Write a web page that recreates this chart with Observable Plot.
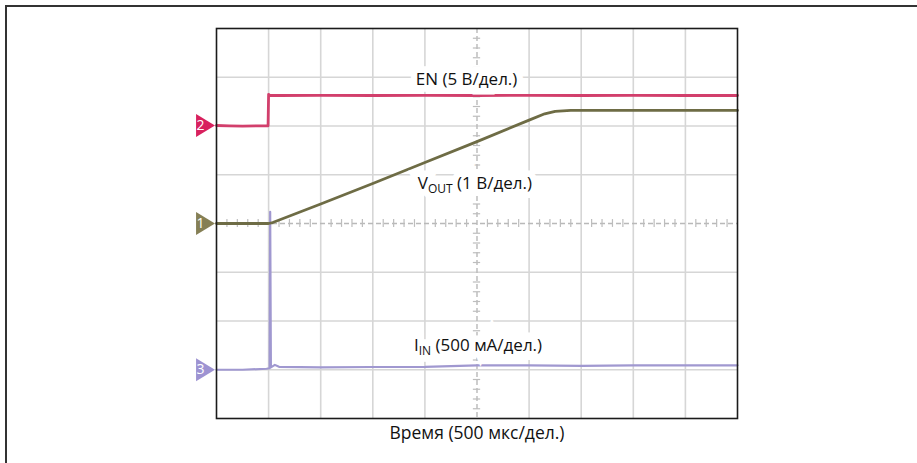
<!DOCTYPE html>
<html>
<head>
<meta charset="utf-8">
<script src="https://cdn.jsdelivr.net/npm/d3@7"></script>
<script src="https://cdn.jsdelivr.net/npm/@observablehq/plot@0.6"></script>
<style>
  html, body { margin: 0; padding: 0; background: #fff; }
  #wrap { position: relative; width: 917px; height: 463px; overflow: hidden; }
  #outline { position: absolute; left: 5px; top: 5px; width: 920px; height: 470px; z-index: 2;
             border-left: 2px solid #333; border-top: 2px solid #333; box-sizing: border-box; pointer-events: none; }
  #chart { position: absolute; left: 0; top: 0; z-index: 1; }
</style>
</head>
<body>
<div id="wrap"><div id="chart"></div><div id="outline"></div></div>
<script>
// ---- Oscilloscope settings (time axis in µs, 500 µs/div, 10 div; 8 vertical div) ----
const timeDomain = [0, 5000];
const timeGrid = [500, 1000, 1500, 2000, 2500, 3000, 3500, 4000, 4500];
const divGrid = [1, 2, 3, 4, 5, 6, 7];

// ---- Channel 2: EN (5 V/div) ----
const enTime  = [0, 120, 250, 380, 495, 500, 512, 600, 1000, 1500, 2000, 2500, 3000, 3500, 4000, 4500, 5000];
const enVolts = [0, -0.03, -0.06, -0.04, -0.03, 3.2, 3.08, 3.08, 3.09, 3.08, 3.1, 3.08, 3.09, 3.08, 3.09, 3.08, 3.08];

// ---- Channel 1: VOUT (1 V/div) ----
const vOutTime  = [0, 250, 500, 540, 1000, 1500, 2000, 2500, 3000, 3150, 3250, 3400, 4000, 4500, 5000];
const vOutVolts = [0, 0, 0, 0.02, 0.4, 0.82, 1.25, 1.68, 2.12, 2.25, 2.3, 2.32, 2.32, 2.32, 2.32];

// ---- Channel 3: IIN (500 mA/div) ----
const iInTime = [0, 250, 480, 510, 515, 522, 560, 600, 1000, 1500, 2000, 2500, 3000, 3500, 4000, 4500, 5000];
const iInMilliamps = [0, 0, 10, 15, 1620, 25, 50, 30, 25, 28, 30, 45, 45, 40, 45, 45, 45];

// ---- Channel settings ----
const channelIds    = ["2", "1", "3"];
const channelNames  = ["EN", "VOUT", "IIN"];
const channelGround = [6.01, 4.0, 1.0];     // ground marker, in divisions from the bottom
const channelPerDiv = [5, 1, 500];          // units per division
const channelColors = ["#d8215e", "#857f55", "#9d93d2"];
const traceColors   = ["#d23f6c", "#6e6c45", "#a098d0"];

// ---- Annotations ----
const labelTexts = ["EN (5 В/дел.)", "VOUT (1 В/дел.)", "IIN (500 мА/дел.)"];
const labelTime  = [2400, 2480, 2510];
const labelDiv   = [6.95, 4.82, 1.5];
const axisTitle  = "Время (500 мкс/дел.)";

// ---- build tables ----
const toDiv = (v, i) => channelGround[i] + v / channelPerDiv[i];
const enData   = enTime.map((t, k) => ({t, y: toDiv(enVolts[k], 0)}));
const vOutData = vOutTime.map((t, k) => ({t, y: toDiv(vOutVolts[k], 1)}));
const iInData  = iInTime.map((t, k) => ({t, y: toDiv(iInMilliamps[k], 2)}));
const channels = channelIds.map((id, i) => ({id, name: channelNames[i], y: channelGround[i], color: channelColors[i]}));
const labels = labelTexts.map((text, i) => ({text, t: labelTime[i], y: labelDiv[i]}));

const centerT = (timeDomain[0] + timeDomain[1]) / 2;
const minorDiv = d3.range(0.2, 8, 0.2).filter(v => Math.abs(v - Math.round(v)) > 0.05);
const minorT = d3.range(100, 5000, 100).filter(v => v % 500 !== 0);

const arrow = {
  draw(ctx, size) {
    const r = Math.sqrt(size / Math.PI);
    ctx.moveTo(-r * 0.9, -r * 1.1);
    ctx.lineTo(r * 0.9, 0);
    ctx.lineTo(-r * 0.9, r * 1.1);
    ctx.closePath();
  }
};

const FONT = "'Open Sans', 'Noto Sans', sans-serif";

const chart = Plot.plot({
  width: 917,
  height: 463,
  marginLeft: 216,
  marginRight: 180,
  marginTop: 28,
  marginBottom: 45,
  x: {domain: timeDomain, axis: null},
  y: {domain: [0, 8], axis: null},
  style: {fontFamily: FONT, background: "#fff"},
  marks: [
    Plot.ruleX(timeGrid.filter(t => t !== centerT), {stroke: "#d6d6d6", strokeWidth: 1.6}),
    Plot.ruleY(divGrid.filter(d => d !== 4), {stroke: "#d6d6d6", strokeWidth: 1.6}),
    Plot.ruleX([centerT], {stroke: "#b9b9b9", strokeWidth: 1.4, strokeDasharray: "5,3"}),
    Plot.ruleY([4], {stroke: "#b9b9b9", strokeWidth: 1.4, strokeDasharray: "5,3"}),
    Plot.ruleY(minorDiv, {x1: centerT - 35, x2: centerT + 35, stroke: "#bdbdbd", strokeWidth: 1.2}),
    Plot.ruleX(minorT, {y1: 3.92, y2: 4.08, stroke: "#bdbdbd", strokeWidth: 1.2}),
    // traces
    Plot.line(iInData, {x: "t", y: "y", stroke: traceColors[2], strokeWidth: 2.2, curve: "linear"}),
    Plot.line(enData, {x: "t", y: "y", stroke: traceColors[0], strokeWidth: 2.8, curve: "linear"}),
    Plot.line(vOutData, {x: "t", y: "y", stroke: traceColors[1], strokeWidth: 2.8, curve: "linear"}),
    // label halos (white boxes) then labels
    Plot.text(labels, {x: "t", y: "y", text: "text", fontSize: 17, fill: "#fff", stroke: "#fff", strokeWidth: 13,
      strokeLinejoin: "miter", lineAnchor: "middle", className: "siglabel"}),
    Plot.text(labels, {x: "t", y: "y", text: "text", fontSize: 17, fill: "#111", lineAnchor: "middle", className: "siglabel"}),
    Plot.text([axisTitle], {frameAnchor: "bottom", dy: 20, fontSize: 17.5, fill: "#111", text: d => d}),
    Plot.frame({stroke: "#1b1b1b", strokeWidth: 1.6}),
    // channel markers
    Plot.dot(channels, {x: timeDomain[0], y: "y", symbol: arrow, r: 10.5, fill: "color", dx: -11, clip: false}),
    Plot.text(channels, {x: timeDomain[0], y: "y", text: "id", fill: "#fff", fontSize: 14, dx: -16})
  ]
});

document.getElementById("chart").appendChild(chart);

// subscripts for VOUT and IIN
d3.select(chart).selectAll("g.siglabel text").each(function () {
  const el = d3.select(this);
  const s = el.text();
  let main = null, sub = null, rest = null;
  if (s.startsWith("VOUT")) { main = "V"; sub = "OUT"; rest = s.slice(4); }
  else if (s.startsWith("IIN")) { main = "I"; sub = "IN"; rest = s.slice(3); }
  if (!main) return;
  el.text(null);
  el.append("tspan").text(main);
  el.append("tspan").attr("dy", 4).attr("font-size", 12).text(sub);
  el.append("tspan").attr("dy", -4).text(rest);
});
</script>
</body>
</html>
